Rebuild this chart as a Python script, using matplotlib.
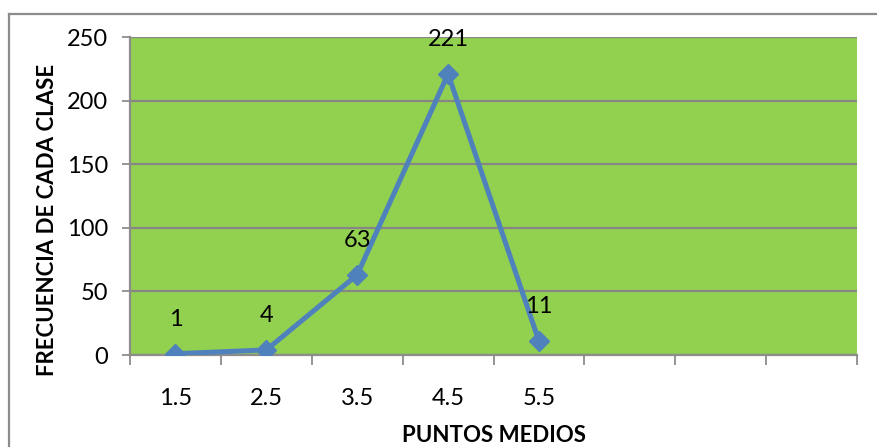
import matplotlib.pyplot as plt
from matplotlib.lines import Line2D

# data
categories = ['1.5', '2.5', '3.5', '4.5', '5.5', '', '', '']
frequencies = [1, 4, 63, 221, 11]
value_labels = ['1', '4', '63', '221', '11']
y_ticks = [0, 50, 100, 150, 200, 250]

plt.rcParams['font.family'] = ['Lato', 'DejaVu Sans']

W, H = 877, 447
fig = plt.figure(figsize=(W / 100, H / 100), dpi=100)
fig.patch.set_facecolor('white')

# outer chart frame (only top and left edges visible)
grey = '#8c8c8c'
fig.add_artist(Line2D([9 / W, 1.0], [1 - 14 / H, 1 - 14 / H], color=grey, lw=1.6,
                      transform=fig.transFigure))
fig.add_artist(Line2D([9 / W, 9 / W], [0, 1 - 14 / H], color=grey, lw=1.6,
                      transform=fig.transFigure))

left, right = 130 / W, 857 / W
bottom, top = 1 - 355 / H, 1 - 37 / H
ax = fig.add_axes([left, bottom, right - left, top - bottom])
ax.set_facecolor('#92D050')

x = list(range(len(frequencies)))
ax.plot(x, frequencies, color='#4F81BD', lw=3.6, marker='D', markersize=10,
        markerfacecolor='#4F81BD', markeredgecolor='#4F81BD', zorder=3,
        solid_joinstyle='miter')

for xi, v, lab in zip(x, frequencies, value_labels):
    ax.annotate(lab, (xi, v), xytext=(0, 17), textcoords='offset points',
                ha='center', va='bottom', fontsize=17, color='black', zorder=4)

ax.set_xlim(-0.5, len(categories) - 0.5)
ax.set_ylim(0, 250)

ax.set_yticks(y_ticks)
ax.set_yticklabels([str(t) for t in y_ticks], fontsize=17)
ax.yaxis.grid(True, color='#868686', lw=1.6)
ax.set_axisbelow(True)

ax.set_xticks(range(len(categories)))
ax.set_xticklabels(categories, fontsize=17)
ax.set_xticks([i - 0.5 for i in range(len(categories) + 1)], minor=True)
ax.tick_params(axis='x', which='major', length=0, pad=24)
ax.tick_params(axis='x', which='minor', length=7, width=1.3, color=grey)
ax.tick_params(axis='y', length=6, width=1.3, color=grey, pad=10)

for side in ['top', 'right']:
    ax.spines[side].set_visible(False)
for side in ['left', 'bottom']:
    ax.spines[side].set_color(grey)
    ax.spines[side].set_linewidth(1.6)

# axis titles placed where the reference has them
fig.text(48 / W, 1 - 220 / H, 'FRECUENCIA DE CADA CLASE', fontsize=16,
         fontweight='bold', rotation=90, ha='center', va='center')
fig.text(494 / W, 1 - 436 / H, 'PUNTOS MEDIOS', fontsize=16, fontweight='bold',
         ha='center', va='center')

fig.savefig('out.png', dpi=100)
